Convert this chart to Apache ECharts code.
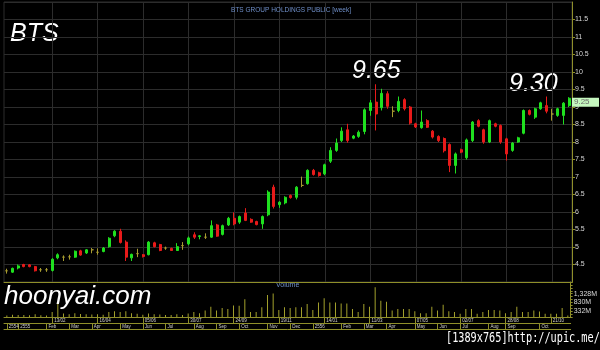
<!DOCTYPE html>
<html><head><meta charset="utf-8">
<script src="https://cdn.jsdelivr.net/npm/echarts@6/dist/echarts.min.js"></script>
<style>html,body{margin:0;padding:0;background:#000}#c{width:600px;height:350px}</style>
</head><body><div id="c"></div>
<script>
// Weekly OHLC of BTS (Dec 2011 - Nov 2013)
const opens = [4.32,4.28,4.40,4.50,4.49,4.44,4.35,4.35,4.33,4.69,
4.71,4.72,4.71,4.89,4.83,4.92,4.85,4.87,5.01,5.32,
5.45,5.14,4.69,4.81,4.78,4.78,5.12,5.07,4.97,4.96,
4.90,5.04,5.09,5.35,5.30,5.28,5.28,5.63,5.36,5.63,
5.82,5.71,5.97,5.79,5.73,5.66,5.92,6.71,6.21,6.26,
6.47,6.42,6.76,6.81,7.19,7.12,7.09,7.45,7.76,8.04,
8.35,8.11,8.16,8.30,8.90,9.14,8.98,9.38,8.88,8.90,
9.21,9.00,8.52,8.41,8.61,8.31,8.16,8.10,7.93,7.33,
7.78,7.55,8.04,8.61,8.35,8.00,8.52,8.47,8.09,7.76,
8.00,8.25,8.90,8.71,8.95,9.04,8.80,8.76,8.76,9.04];
const closes = [4.32,4.39,4.46,4.44,4.44,4.32,4.35,4.35,4.65,4.78,
4.71,4.72,4.88,4.77,4.92,4.92,4.85,4.97,5.25,5.45,
5.13,4.71,4.79,4.81,4.73,5.14,5.01,4.90,4.97,4.90,
5.01,5.04,5.26,5.28,5.32,5.28,5.61,5.31,5.61,5.82,
5.66,5.87,5.76,5.71,5.64,5.87,6.57,6.16,6.28,6.42,
6.41,6.71,6.76,7.19,7.07,7.04,7.35,7.76,7.97,8.31,
8.04,8.17,8.28,8.92,9.12,8.80,9.39,9.02,8.88,9.16,
8.95,8.54,8.43,8.57,8.42,8.14,8.04,7.75,7.33,7.66,
7.71,8.06,8.57,8.45,8.00,8.61,8.45,8.00,7.66,7.97,
8.12,8.90,8.79,8.95,9.12,8.88,8.80,8.95,9.11,9.25];
const lows = [4.24,4.26,4.36,4.42,4.42,4.30,4.29,4.29,4.30,4.65,
4.60,4.64,4.69,4.75,4.80,4.82,4.78,4.85,4.98,5.28,
5.10,4.60,4.60,4.71,4.70,4.76,4.99,4.88,4.92,4.89,
4.89,4.92,5.05,5.23,5.22,5.23,5.26,5.29,5.33,5.60,
5.62,5.66,5.74,5.69,5.62,5.52,5.88,6.10,6.12,6.22,
6.38,6.36,6.71,6.78,7.04,7.01,7.05,7.40,7.72,8.00,
7.98,8.08,8.12,8.22,8.75,8.33,8.90,8.95,8.71,8.85,
8.90,8.50,8.40,8.38,8.40,8.10,8.00,7.70,7.14,7.10,
7.68,7.50,8.00,8.42,7.95,7.97,8.42,7.95,7.47,7.72,
7.98,8.22,8.76,8.66,8.92,8.82,8.61,8.72,8.50,9.00];
const highs = [4.38,4.41,4.50,4.52,4.51,4.46,4.40,4.40,4.68,4.82,
4.76,4.78,4.90,4.92,4.94,4.97,4.96,5.00,5.28,5.48,
5.52,5.19,4.81,4.95,4.80,5.17,5.15,5.09,5.01,4.98,
5.11,5.14,5.30,5.42,5.34,5.39,5.76,5.66,5.64,5.86,
5.99,5.90,6.11,5.82,5.75,5.90,6.62,6.78,6.31,6.45,
6.50,6.74,7.01,7.22,7.23,7.15,7.38,7.85,8.10,8.42,
8.52,8.20,8.33,8.96,9.20,9.65,9.52,9.45,9.02,9.30,
9.25,9.03,8.55,8.90,8.65,8.34,8.19,8.13,7.96,7.70,
7.81,8.10,8.60,8.65,8.38,8.64,8.55,8.50,8.12,8.00,
8.15,8.93,8.93,8.98,9.15,9.30,8.95,8.98,9.14,9.28];
// weekly volume, millions of shares
const volumes = [90,130,110,120,100,150,100,90,280,740,
200,160,220,170,150,140,160,130,280,330,
280,330,220,180,130,200,150,140,120,110,
150,120,200,280,220,370,590,370,510,460,
660,640,1010,280,280,550,1250,1340,400,550,
510,550,550,740,400,830,1070,830,830,770,
770,460,280,740,590,1690,920,865,370,460,
460,460,330,220,220,590,370,700,330,280,
185,460,460,185,280,400,400,370,220,280,
590,280,280,370,310,185,185,185,515,90];
// date axis tick labels: [week index, label]
const weekTicks = [[8,'13/02'],[16,'16/04'],[24,'05/06'],[32,'30/07'],[40,'24/09'],[48,'19/11'],
  [56,'14/01'],[64,'11/03'],[72,'07/05'],[80,'02/07'],[88,'28/08'],[96,'21/10']];
const monthTicks = [[0,'2554'],[2,'2555'],[7,'Feb'],[11,'Mar'],[15,'Apr'],[20,'May'],[24,'Jun'],
  [28,'Jul'],[33,'Aug'],[37,'Sep'],[41,'Oct'],[46,'Nov'],[50,'Dec'],[54,'2556'],[59,'Feb'],
  [63,'Mar'],[67,'Apr'],[72,'May'],[76,'Jun'],[80,'Jul'],[85,'Aug'],[88,'Sep'],[94,'Oct']];
const volTickLabels = [332, 830, 1328];

const categories = opens.map((_, i) => String(i));
const candles = opens.map((o, i) => [o, closes[i], lows[i], highs[i]]);
const weekMap = new Map(weekTicks);
const monthMap = new Map(monthTicks);

const OLIVE = '#8f8f2a';
const GRIDC = '#2c2c2c';
const BLUE = '#6f8fc8';

const chart = echarts.init(document.getElementById('c'), null, {renderer: 'canvas'});
const option = {
  backgroundColor: '#000',
  animation: false,
  title: {
    text: 'BTS GROUP HOLDINGS PUBLIC [week]', left: 286, top: 2, textAlign: 'center',
    textStyle: {color: BLUE, fontSize: 6.5, fontWeight: 'normal', fontFamily: 'Liberation Sans'}
  },
  grid: [
    {left: 4, right: 28, top: 2, bottom: 68, show: true, borderColor: GRIDC, borderWidth: 1},
    {left: 4, right: 28, top: 282, bottom: 33}
  ],
  xAxis: [
    {type: 'category', gridIndex: 0, data: categories, boundaryGap: true,
     axisLine: {show: true, lineStyle: {color: OLIVE}}, axisTick: {show: false}, axisLabel: {show: false},
     splitLine: {show: true, alignWithLabel: true, interval: (i) => weekMap.has(i), lineStyle: {color: GRIDC}}},
    {type: 'category', gridIndex: 1, data: categories, boundaryGap: true, position: 'bottom',
     axisLine: {show: true, lineStyle: {color: OLIVE}},
     axisTick: {show: true, alignWithLabel: true, length: 6, interval: (i) => weekMap.has(i), lineStyle: {color: OLIVE}},
     axisLabel: {show: true, interval: (i) => weekMap.has(i), formatter: (v, i) => weekMap.get(Number(v)) || '',
       align: 'left', verticalAlign: 'top', margin: 1, padding: [0, 0, 0, 2], color: '#cfcfcf', fontSize: 4.5, fontFamily: 'Liberation Sans'},
     splitLine: {show: false}},
    {type: 'category', gridIndex: 1, data: categories, boundaryGap: true, position: 'bottom', offset: 6,
     axisLine: {show: true, lineStyle: {color: OLIVE}},
     axisTick: {show: true, alignWithLabel: true, length: 6, interval: (i) => monthMap.has(i), lineStyle: {color: OLIVE}},
     axisLabel: {show: true, interval: (i) => monthMap.has(i), formatter: (v, i) => monthMap.get(Number(v)) || '',
       align: 'left', verticalAlign: 'top', margin: 1, padding: [0, 0, 0, 2], color: '#cfcfcf', fontSize: 4.5, fontFamily: 'Liberation Sans'},
     splitLine: {show: false}},
    {type: 'category', gridIndex: 1, data: categories, boundaryGap: true, position: 'bottom', offset: 12,
     axisLine: {show: true, lineStyle: {color: OLIVE}}, axisTick: {show: false}, axisLabel: {show: false}, splitLine: {show: false}}
  ],
  yAxis: [
    {type: 'value', gridIndex: 0, position: 'right', min: 4, max: 12, interval: 0.5,
     axisLine: {show: true, lineStyle: {color: OLIVE}},
     axisTick: {show: true, length: 3, lineStyle: {color: OLIVE}},
     axisLabel: {show: true, showMinLabel: false, showMaxLabel: false, margin: 3, color: '#d8d8d8', fontSize: 7, fontFamily: 'Liberation Sans'},
     splitLine: {show: true, lineStyle: {color: GRIDC}}},
    {type: 'value', gridIndex: 1, position: 'right', min: 0, max: 1992, interval: 166,
     axisLine: {show: true, lineStyle: {color: OLIVE}},
     axisTick: {show: true, length: 2, lineStyle: {color: OLIVE}},
     axisLabel: {show: true, margin: 3, color: '#d8d8d8', fontSize: 7, fontFamily: 'Liberation Sans',
       formatter: (v) => volTickLabels.includes(Math.round(v)) ? Math.round(v).toLocaleString('en-US') + 'M' : ''},
     splitLine: {show: false}}
  ],
  series: [
    {type: 'candlestick', xAxisIndex: 0, yAxisIndex: 0, data: candles, barWidth: 2.5, clip: false,
     itemStyle: {color: '#1fe01f', color0: '#e81a1a', borderColor: '#1fe01f', borderColor0: '#e81a1a',
       borderColorDoji: '#a89c30', borderWidth: 1}},
    {type: 'bar', xAxisIndex: 1, yAxisIndex: 1, data: volumes, barWidth: 1,
     itemStyle: {color: '#a3a02c'}}
  ],
  graphic: [
    {type: 'text', id: 'bts', left: 10, top: 22, style: {text: 'BTS', fill: '#fff', font: 'italic 25px "Liberation Sans"'}},
    {type: 'text', id: 'hi1', left: 352, top: 59, style: {text: '9.65', fill: '#fff', font: 'italic 25px "Liberation Sans"'}},
    {type: 'text', id: 'hi2', left: 509, top: 72, style: {text: '9.30', fill: '#fff', font: 'italic 25px "Liberation Sans"'}},
    {type: 'text', id: 'site', left: 4, top: 284, style: {text: 'hoonyai.com', fill: '#fff', font: 'italic 26px "Liberation Sans"'}},
    {type: 'text', id: 'vol', left: 276, top: 282, style: {text: 'Volume', fill: BLUE, font: '7px "Liberation Sans"'}},
    {type: 'text', id: 'wm', x: 446, y: 331, scaleX: 0.73, style: {text: '[1389x765]http://upic.me/', fill: '#fff', font: '14px "DejaVu Sans Mono"'}}
  ]
};
chart.setOption(option);

// last price tag on the price axis
const last = closes[closes.length - 1];
const yLast = chart.convertToPixel({yAxisIndex: 0}, last);
const xAxisRight = 600 - 28;
chart.setOption({graphic: [
  {type: 'rect', id: 'tagbg', shape: {x: xAxisRight, y: yLast - 0.5, width: 27, height: 9}, style: {fill: '#c6f7bf'}, z: 50},
  {type: 'text', id: 'tagtx', x: xAxisRight + 2, y: yLast + 4, z: 51,
   style: {text: last.toFixed(2), fill: '#6a6a6a', font: '8px "Liberation Sans"', verticalAlign: 'middle'}}
]});
</script></body></html>
